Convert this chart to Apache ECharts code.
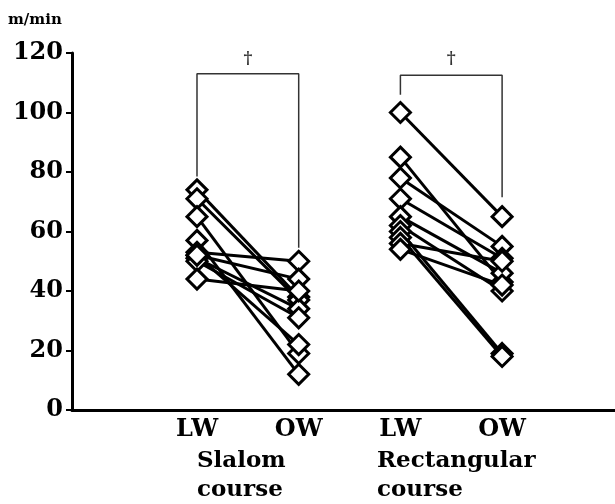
<!DOCTYPE html>
<html>
<head>
<meta charset="utf-8">
<script src="https://cdn.jsdelivr.net/npm/echarts@6/dist/echarts.min.js"></script>
<style>
  html, body { margin: 0; padding: 0; background: #fff; }
  #chart { width: 615px; height: 504px; }
</style>
</head>
<body>
<div id="chart"></div>
<script>
// x positions: 0 = LW slalom, 1 = OW slalom, 2 = LW rectangular, 3 = OW rectangular
const conditionLabels = ['LW', 'OW', 'LW', 'OW'];
const yTicks = [0, 20, 40, 60, 80, 100, 120];

// m/min, one entry per subject
const slalomLW = [74, 71, 65, 57, 53, 52, 51, 50, 52, 44];
const slalomOW = [38, 37, 19, 12, 50, 44, 34, 31, 22, 40];
const rectLW = [100, 85, 78, 71, 65, 62, 60, 58, 56, 54];
const rectOW = [65, 43, 55, 51, 46, 40, 19, 18, 50, 42];

// significance brackets (data space)
const bracketSlalom = [[0, 78.5], [0, 113], [1, 113], [1, 54.5]];
const bracketRect = [[2, 106], [2, 112.5], [3, 112.5], [3, 71.5]];
const daggers = [[0.5, 118], [2.5, 118]];

const FONT = '"DejaVu Serif", "Liberation Serif", serif';

const chart = echarts.init(document.getElementById('chart'));

const series = [];

function addCourse(lw, ow, xa, xb) {
  lw.forEach((v, i) => {
    series.push({
      type: 'line',
      data: [[xa, v], [xb, ow[i]]],
      symbol: 'none',
      lineStyle: { color: '#000', width: 3 },
      silent: true,
      z: 2
    });
  });
  series.push({
    type: 'scatter',
    data: lw.map(v => [xa, v]).concat(ow.map(v => [xb, v])),
    symbol: 'diamond',
    symbolSize: 20,
    itemStyle: { color: '#fff', borderColor: '#000', borderWidth: 3, opacity: 1 },
    z: 3
  });
}

addCourse(slalomLW, slalomOW, 0, 1);
addCourse(rectLW, rectOW, 2, 3);

[bracketSlalom, bracketRect].forEach(b => {
  series.push({
    type: 'line',
    data: b,
    symbol: 'none',
    lineStyle: { color: '#333', width: 1.5 },
    z: 1
  });
});

series.push({
  type: 'scatter',
  data: daggers,
  symbolSize: 0,
  label: {
    show: true,
    position: 'inside',
    formatter: '\u2020',
    color: '#000',
    fontFamily: FONT,
    fontWeight: 'bold',
    fontSize: 17
  }
});

chart.setOption({
  animation: false,
  backgroundColor: '#fff',
  grid: { left: 72, right: 0, top: 53, bottom: 94 },
  xAxis: {
    type: 'value',
    min: -1.229,
    max: 4.11,
    splitLine: { show: false },
    axisLine: { show: true, onZero: false, lineStyle: { color: '#000', width: 3 } },
    axisTick: { show: false },
    axisLabel: {
      customValues: [0, 1, 2, 3],
      formatter: v => conditionLabels[Math.round(v)],
      margin: 8,
      color: '#000',
      fontFamily: FONT,
      fontWeight: 'bold',
      fontSize: 24
    }
  },
  yAxis: {
    type: 'value',
    min: yTicks[0],
    max: yTicks[yTicks.length - 1],
    interval: 20,
    splitLine: { show: false },
    axisLine: { show: true, onZero: false, lineStyle: { color: '#000', width: 3 } },
    axisTick: { show: true, length: 6, lineStyle: { color: '#000', width: 2 } },
    axisLabel: {
      margin: 9,
      color: '#000',
      fontFamily: FONT,
      fontWeight: 'bold',
      fontSize: 24
    }
  },
  graphic: [
    {
      type: 'text', left: 8, top: 13,
      style: { text: 'm/min', fill: '#000', font: 'bold 15px ' + FONT }
    },
    {
      type: 'text', left: 197, top: 447,
      style: { text: 'Slalom\ncourse', fill: '#000', font: 'bold 23px ' + FONT, lineHeight: 29 }
    },
    {
      type: 'text', left: 377, top: 447,
      style: { text: 'Rectangular\ncourse', fill: '#000', font: 'bold 23px ' + FONT, lineHeight: 29 }
    }
  ],
  series: series
});
</script>
</body>
</html>
